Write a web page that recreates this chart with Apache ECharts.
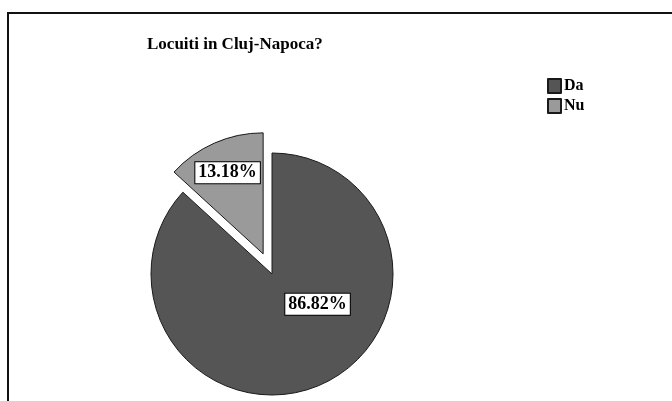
<!DOCTYPE html>
<html>
<head>
<meta charset="utf-8">
<script src="https://cdn.jsdelivr.net/npm/echarts@6/dist/echarts.min.js"></script>
<style>
  html, body { margin: 0; padding: 0; background: #fff; }
  #chart { width: 672px; height: 401px; }
</style>
</head>
<body>
<div id="chart"></div>
<script>
var categories = ["Da", "Nu"];
var percents = [86.82, 13.18];
var sliceColors = ["#555555", "#9a9a9a"];
// label nudges (px) so the boxes sit where the original put them
var labelShift = [[20, -28], [-10, -23]];

var chart = echarts.init(document.getElementById("chart"), null, { renderer: "canvas" });

var pieData = categories.map(function (name, i) {
  return {
    name: name,
    value: percents[i],
    selected: i === 1,
    itemStyle: { color: sliceColors[i] }
  };
});

var option = {
  backgroundColor: "#ffffff",
  animation: false,
  title: {
    text: "Locuiti in Cluj-Napoca?",
    left: 142,
    top: 31,
    textStyle: {
      fontFamily: "Liberation Serif",
      fontWeight: "bold",
      fontSize: 17,
      color: "#000"
    }
  },
  legend: {
    orient: "vertical",
    left: 542,
    top: 73,
    icon: "rect",
    itemWidth: 13,
    itemHeight: 14,
    itemGap: 4,
    selectedMode: false,
    data: categories,
    textStyle: {
      fontFamily: "Liberation Serif",
      fontWeight: "bold",
      fontSize: 16,
      color: "#000",
      padding: [0, 0, 0, -2]
    }
  },
  graphic: [
    {
      type: "rect",
      shape: { x: 8, y: 13, width: 700, height: 420 },
      style: { fill: "none", stroke: "#111", lineWidth: 2 },
      silent: true
    }
  ],
  series: [
    {
      type: "pie",
      center: [272, 274],
      radius: 121,
      startAngle: 90,
      clockwise: true,
      selectedMode: "single",
      selectedOffset: 22,
      data: pieData,
      itemStyle: { borderColor: "#1a1a1a", borderWidth: 1 },
      label: {
        show: true,
        position: "inside",
        formatter: function (p) { return p.value.toFixed(2) + "%"; },
        fontFamily: "Liberation Serif",
        fontWeight: "bold",
        fontSize: 18,
        color: "#000",
        backgroundColor: "#fff",
        borderColor: "#000",
        borderWidth: 1,
        padding: [2, 3, 1, 3]
      },
      labelLine: { show: false },
      labelLayout: function (p) {
        return { dx: labelShift[p.dataIndex][0], dy: labelShift[p.dataIndex][1] };
      },
      emphasis: { disabled: true },
      select: { itemStyle: { borderColor: "#1a1a1a", borderWidth: 1 } }
    }
  ]
};

chart.setOption(option);
</script>
</body>
</html>
